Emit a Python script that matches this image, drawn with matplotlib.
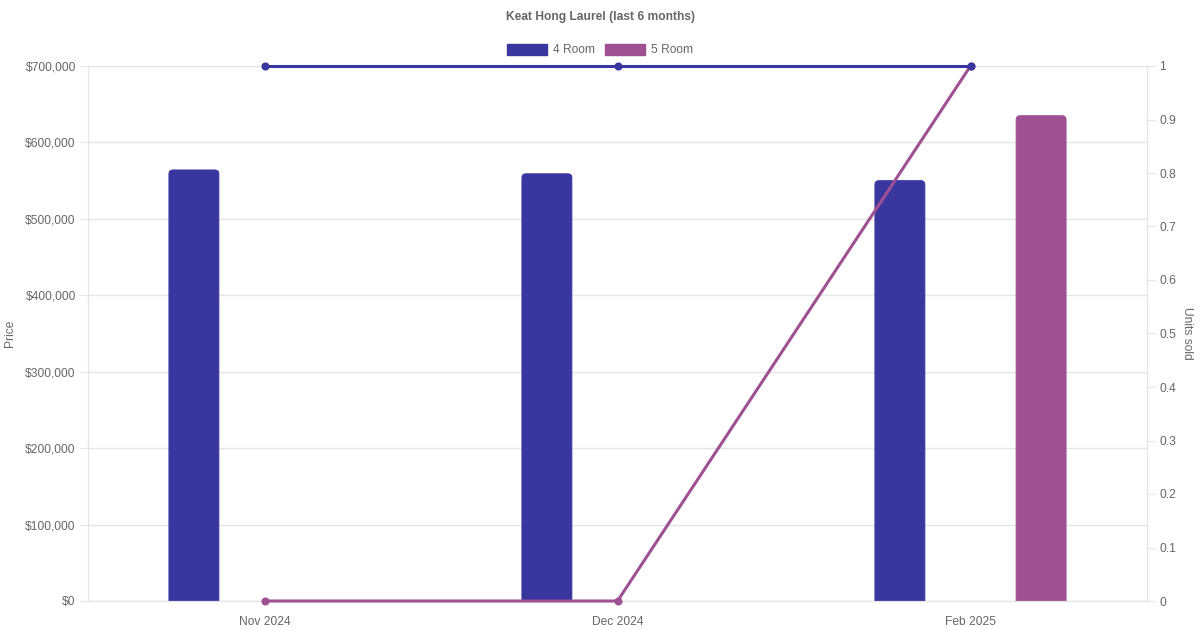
import matplotlib
matplotlib.use("Agg")
import matplotlib.pyplot as plt
from matplotlib.patches import Patch, FancyBboxPatch
from matplotlib.ticker import FuncFormatter, MultipleLocator
import numpy as np

plt.rcParams['font.family'] = ['Liberation Sans', 'DejaVu Sans']

months = ["Nov 2024", "Dec 2024", "Feb 2025"]
series_names = ["4 Room", "5 Room"]
price_4room = [564000, 559000, 550000]
price_5room = [None, None, 635000]
units_4room = [1, 1, 1]
units_5room = [0, 0, 1]

blue = "#3a36a0"
purple = "#9f5093"
text_col = "#666666"
grid_col = "#e5e5e5"
px = 12 * 0.72  # 12px font in points at dpi 100

fig = plt.figure(figsize=(12, 6.3), dpi=100)
ax = fig.add_axes([88 / 1200, 29 / 630, 1059 / 1200, 535 / 630])
ax2 = ax.twinx()

ax.set_xlim(-0.5, 2.5)
ax.set_ylim(0, 700000)
ax2.set_ylim(0, 1)

x = np.arange(len(months))
bar_w = 50 / 353
offset = 0.2

# rounded top corners: radius in x units, aspect converts to y units
x_per_px = 3 / 1059
y_per_px = 700000 / 535
radius = 4 * x_per_px
aspect = y_per_px / x_per_px

for vals, col, off in [(price_4room, blue, -offset), (price_5room, purple, offset)]:
    for xi, v in zip(x, vals):
        if v is None:
            continue
        bottom = -radius * aspect * 2
        rect = FancyBboxPatch((xi + off - bar_w / 2, bottom), bar_w, v - bottom,
                              boxstyle="round,pad=0,rounding_size=%f" % radius,
                              mutation_aspect=aspect, facecolor=col, edgecolor=col,
                              linewidth=0.6, zorder=2)
        ax.add_patch(rect)

ax2.plot(x, units_5room, color=purple, lw=2.2, marker="o", ms=4.8, zorder=3, clip_on=False)
ax2.plot(x, units_4room, color=blue, lw=2.2, marker="o", ms=4.8, zorder=4, clip_on=False)

ax.yaxis.set_major_locator(MultipleLocator(100000))
ax.yaxis.set_major_formatter(FuncFormatter(lambda v, p: "${:,.0f}".format(v)))
ax2.yaxis.set_major_locator(MultipleLocator(0.1))
ax2.yaxis.set_major_formatter(FuncFormatter(lambda v, p: "{:g}".format(round(v, 1))))

ax.set_xticks(x)
ax.set_xticklabels(months)
ax.grid(axis="y", color=grid_col, lw=1, zorder=0)
ax.set_axisbelow(True)

for a in (ax, ax2):
    for s in a.spines.values():
        s.set_color(grid_col)
    a.spines["top"].set_visible(False)
ax.spines["bottom"].set_color("#d0d0d0")

ax.tick_params(axis="y", length=5.8, color=grid_col, labelcolor=text_col, labelsize=px, pad=3)
ax.tick_params(axis="x", length=0, labelcolor=text_col, labelsize=px, pad=11)
ax2.tick_params(axis="y", length=5.8, color=grid_col, labelcolor=text_col, labelsize=px, pad=3)

ax.set_ylabel("Price", color=text_col, fontsize=px)
ax2.set_ylabel("Units sold", color=text_col, fontsize=px, rotation=270)
ax.yaxis.set_label_coords(-72 / 1059, 0.5)
ax2.yaxis.set_label_coords(1 + 46 / 1059, 0.5)

fig.text(0.5, 1 - 17 / 630, "Keat Hong Laurel (last 6 months)", ha="center", va="center",
         fontsize=px, fontweight="bold", color=text_col)

handles = [Patch(facecolor=blue, edgecolor=blue), Patch(facecolor=purple, edgecolor=purple)]
fig.legend(handles, series_names, loc="center", bbox_to_anchor=(0.5, 1 - 50 / 630), ncol=2,
           frameon=False, fontsize=px, labelcolor=text_col, handlelength=3.33, handleheight=1.0,
           handletextpad=0.5, columnspacing=0.85, borderaxespad=0)

fig.savefig("out.png", dpi=100)
